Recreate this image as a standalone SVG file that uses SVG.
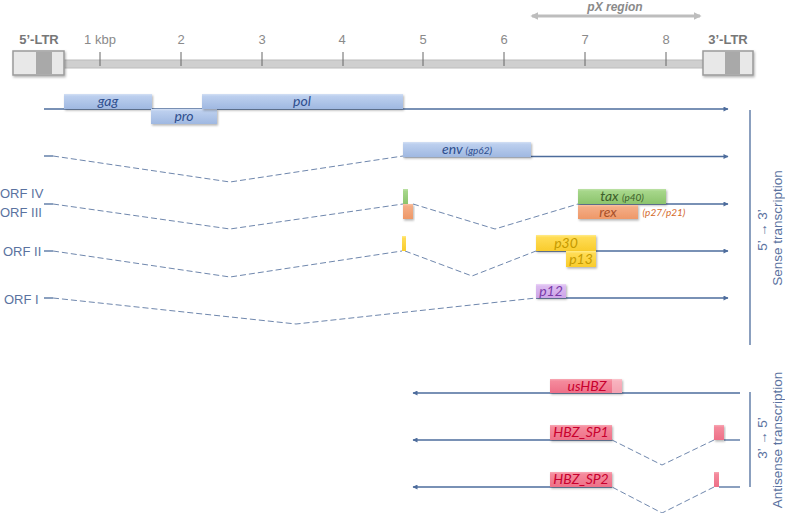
<svg xmlns="http://www.w3.org/2000/svg" width="785" height="513" viewBox="0 0 785 513">
<defs>
<style>
.ruler{font-family:"Liberation Sans",Arial,sans-serif;font-size:13px;fill:#8a8a8a;text-anchor:middle}
.ltr{font-family:"Liberation Sans",Arial,sans-serif;font-size:13px;font-weight:bold;fill:#777;text-anchor:middle}
.lbl{font-family:"Lato","Liberation Sans",sans-serif;font-style:italic;font-size:14px;text-anchor:middle}
.sm{font-size:10px}
.orf{font-family:"Liberation Sans",Arial,sans-serif;font-size:13px;fill:#5a72a0}
.side{font-family:"Liberation Sans",Arial,sans-serif;font-size:13.5px;fill:#5a72a0;text-anchor:middle}
.tx{stroke:#4d6c9c;stroke-width:1.3;fill:none}
.dash{stroke:#6f87ad;stroke-width:1;fill:none;stroke-dasharray:6,3}
.bl{fill:url(#gBlue)}
.gr{fill:url(#gGreen)}
.or{fill:url(#gOrange)}
.ye{fill:url(#gYellow)}
.pu{fill:url(#gPurple)}
.pk{fill:url(#gPink)}
</style>
<linearGradient id="gBlue" x1="0" y1="0" x2="0" y2="1"><stop offset="0" stop-color="#d3e0f4"/><stop offset="0.15" stop-color="#bccfee"/><stop offset="1" stop-color="#9fb8e1"/></linearGradient>
<linearGradient id="gGreen" x1="0" y1="0" x2="0" y2="1"><stop offset="0" stop-color="#bde2a6"/><stop offset="0.15" stop-color="#a6d68a"/><stop offset="1" stop-color="#8cc46c"/></linearGradient>
<linearGradient id="gOrange" x1="0" y1="0" x2="0" y2="1"><stop offset="0" stop-color="#f9c3a4"/><stop offset="0.15" stop-color="#f4ad86"/><stop offset="1" stop-color="#ee9868"/></linearGradient>
<linearGradient id="gYellow" x1="0" y1="0" x2="0" y2="1"><stop offset="0" stop-color="#ffeb8a"/><stop offset="0.15" stop-color="#ffdc55"/><stop offset="1" stop-color="#f9cc2c"/></linearGradient>
<linearGradient id="gPurple" x1="0" y1="0" x2="0" y2="1"><stop offset="0" stop-color="#ecd5f8"/><stop offset="0.15" stop-color="#dcbcf0"/><stop offset="1" stop-color="#cda5e8"/></linearGradient>
<linearGradient id="gPink" x1="0" y1="0" x2="0" y2="1"><stop offset="0" stop-color="#f8a8b4"/><stop offset="0.15" stop-color="#f48a9c"/><stop offset="1" stop-color="#ee7088"/></linearGradient>
<filter id="sh" x="-10%" y="-20%" width="130%" height="160%"><feDropShadow dx="1" dy="1.5" stdDeviation="1" flood-color="#000" flood-opacity="0.3"/></filter>
<marker id="ar" viewBox="0 0 10 10" refX="9" refY="5" markerWidth="6" markerHeight="5" orient="auto" markerUnits="userSpaceOnUse"><path d="M0,0 L10,5 L0,10 z" fill="#4d6c9c"/></marker>
<marker id="gar" viewBox="0 0 10 10" refX="8" refY="5" markerWidth="8" markerHeight="8" orient="auto-start-reverse" markerUnits="userSpaceOnUse"><path d="M0,0 L10,5 L0,10 z" fill="#bdbdbd"/></marker>
</defs>
<rect width="785" height="513" fill="#ffffff"/>

<g id="genome">
<line x1="532" y1="16" x2="700" y2="16" stroke="#bdbdbd" stroke-width="3" marker-start="url(#gar)" marker-end="url(#gar)"/>
<text x="615" y="11" class="ruler" style="font-weight:bold;font-style:italic;font-size:12px">pX region</text>
<rect x="62" y="60" width="643" height="8" fill="#cfcfcf" stroke="#bcbcbc" stroke-width="1"/>
<g stroke="#666" stroke-width="1">
<line x1="100" y1="52" x2="100" y2="66"/><line x1="181" y1="52" x2="181" y2="66"/><line x1="262" y1="52" x2="262" y2="66"/><line x1="343" y1="52" x2="343" y2="66"/>
<line x1="423" y1="52" x2="423" y2="66"/><line x1="504" y1="52" x2="504" y2="66"/><line x1="585" y1="52" x2="585" y2="66"/><line x1="666" y1="52" x2="666" y2="66"/>
</g>
<text x="100" y="44" class="ruler">1 kbp</text>
<text x="181" y="44" class="ruler">2</text>
<text x="262" y="44" class="ruler">3</text>
<text x="342" y="44" class="ruler">4</text>
<text x="423" y="44" class="ruler">5</text>
<text x="504" y="44" class="ruler">6</text>
<text x="585" y="44" class="ruler">7</text>
<text x="666" y="44" class="ruler">8</text>
<g filter="url(#sh)">
<rect x="13" y="51" width="51" height="24" fill="#e8e8e8" stroke="#9a9a9a" stroke-width="1.5"/>
<rect x="703" y="51" width="50" height="24" fill="#e8e8e8" stroke="#9a9a9a" stroke-width="1.5"/>
</g>
<rect x="36" y="52" width="16" height="22" fill="#a9a9a9"/>
<rect x="725" y="52" width="15" height="22" fill="#a9a9a9"/>
<text x="39" y="44" class="ltr">5’-LTR</text>
<text x="728" y="44" class="ltr">3’-LTR</text>
</g>

<g id="connectors">
<line x1="44" y1="109" x2="728" y2="109" class="tx" marker-end="url(#ar)"/>
<polyline points="44,156 53,156" class="tx"/>
<polyline points="53,156 230,182 403,156" class="dash"/>
<line x1="403" y1="156.5" x2="728" y2="156.5" class="tx" marker-end="url(#ar)"/>
<polyline points="44,204 53,204" class="tx"/>
<polyline points="53,204 230,229 403,204" class="dash"/>
<polyline points="413,204 495,229 578,204" class="dash"/>
<line x1="578" y1="204" x2="728" y2="204" class="tx" marker-end="url(#ar)"/>
<polyline points="44,251 53,251" class="tx"/>
<polyline points="53,251 230,277 402,251" class="dash"/>
<polyline points="405,251 472,276 536,251" class="dash"/>
<line x1="536" y1="251" x2="728" y2="251" class="tx" marker-end="url(#ar)"/>
<polyline points="44,298 53,298" class="tx"/>
<polyline points="53,298 296,324 536,298" class="dash"/>
<line x1="536" y1="298" x2="728" y2="298" class="tx" marker-end="url(#ar)"/>
<line x1="740" y1="393" x2="413" y2="393" class="tx" marker-end="url(#ar)"/>
<line x1="740" y1="440" x2="724" y2="440" class="tx"/>
<polyline points="714,440 662,465 612,440" class="dash"/>
<line x1="612" y1="440" x2="413" y2="440" class="tx" marker-end="url(#ar)"/>
<line x1="740" y1="487" x2="719" y2="487" class="tx"/>
<polyline points="714,487 662,513 612,487" class="dash"/>
<line x1="612" y1="487" x2="413" y2="487" class="tx" marker-end="url(#ar)"/>
<line x1="750" y1="110" x2="750" y2="345" class="tx"/>
<line x1="750" y1="392" x2="750" y2="487" class="tx"/>
</g>

<g id="gag"><rect x="64" y="94" width="88" height="15" class="bl" filter="url(#sh)"/><text x="108" y="105.5" class="lbl" fill="#2e4e8e">gag</text></g>
<g id="pro"><rect x="151" y="109" width="66" height="15" class="bl" filter="url(#sh)"/><text x="184" y="120.5" class="lbl" fill="#2e4e8e">pro</text></g>
<g id="pol"><rect x="202" y="94" width="201" height="15" class="bl" filter="url(#sh)"/><text x="302" y="105.5" class="lbl" fill="#2e4e8e">pol</text></g>
<g id="env"><rect x="403" y="142" width="128" height="15" class="bl" filter="url(#sh)"/><text x="467" y="153.5" class="lbl" fill="#2e4e8e">env <tspan class="sm">(gp62)</tspan></text></g>

<g id="orf-labels">
<text x="0" y="198" class="orf">ORF IV</text>
<text x="0" y="217" class="orf">ORF III</text>
<text x="3" y="256" class="orf">ORF II</text>
<text x="4" y="304" class="orf">ORF I</text>
</g>

<g id="tax-exon1"><rect x="403" y="189" width="5" height="15" class="gr"/></g>
<g id="rex-exon1"><rect x="403" y="204" width="10" height="15" class="or" filter="url(#sh)"/></g>
<g id="tax"><rect x="578" y="189" width="88" height="15" class="gr" filter="url(#sh)"/><text x="622" y="200.5" class="lbl" fill="#3d5e2c">tax <tspan class="sm">(p40)</tspan></text></g>
<g id="rex"><rect x="578" y="205" width="60" height="14" class="or" filter="url(#sh)"/><text x="608" y="216.5" class="lbl" fill="#a8512a">rex</text><text x="664" y="216" class="lbl sm" fill="#d4692a">(p27/p21)</text></g>

<g id="p30-exon1"><rect x="402" y="236" width="4" height="15" class="ye"/></g>
<g id="p30"><rect x="536" y="235" width="60" height="16" class="ye" filter="url(#sh)"/><text x="566" y="247.5" class="lbl" fill="#c59a00">p30</text></g>
<g id="p13"><rect x="566" y="251" width="30" height="16" class="ye" filter="url(#sh)"/><text x="581" y="263.5" class="lbl" fill="#c59a00">p13</text></g>
<g id="p12"><rect x="536" y="284" width="30" height="14" class="pu" filter="url(#sh)"/><text x="551" y="295.5" class="lbl" fill="#7a3aa8">p12</text></g>

<g id="usHBZ"><rect x="550" y="379" width="72" height="14" class="pk" filter="url(#sh)"/><rect x="612" y="379" width="10" height="14" fill="#ffffff" opacity="0.35"/><text x="587" y="390.5" class="lbl" fill="#c8002e">usHBZ</text></g>
<g id="HBZ_SP1"><rect x="550" y="425" width="62" height="15" class="pk" filter="url(#sh)"/><text x="581" y="437" class="lbl" fill="#c8002e">HBZ_SP1</text></g>
<g id="HBZ_SP1-exon1"><rect x="714" y="425" width="10" height="15" class="pk" filter="url(#sh)"/></g>
<g id="HBZ_SP2"><rect x="550" y="472" width="62" height="15" class="pk" filter="url(#sh)"/><text x="581" y="484" class="lbl" fill="#c8002e">HBZ_SP2</text></g>
<g id="HBZ_SP2-exon1"><rect x="714" y="472" width="5" height="15" class="pk"/></g>

<g id="sense-label">
<text transform="translate(767,230) rotate(-90)" class="side">5’ → 3’</text>
<text transform="translate(782,228) rotate(-90)" class="side">Sense transcription</text>
</g>
<g id="antisense-label">
<text transform="translate(767,438) rotate(-90)" class="side">3’ → 5’</text>
<text transform="translate(782,440) rotate(-90)" class="side">Antisense transcription</text>
</g>
</svg>
